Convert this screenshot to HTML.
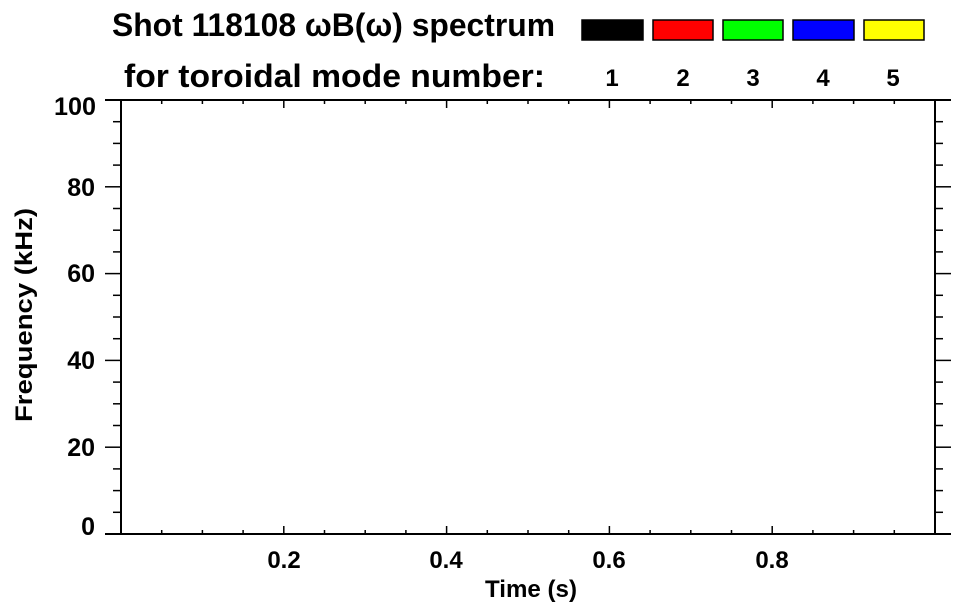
<!DOCTYPE html><html><head><style>body{margin:0;background:#fff}svg{display:block}text{font-family:"Liberation Sans",Arial,sans-serif;font-weight:bold;fill:#000}</style></head><body>
<svg width="963" height="615" viewBox="0 0 963 615">
<text x="112" y="36" font-size="32" textLength="443" lengthAdjust="spacingAndGlyphs">Shot 118108 ωB(ω) spectrum</text>
<text x="124" y="87" font-size="32" textLength="421" lengthAdjust="spacingAndGlyphs">for toroidal mode number:</text>
<g stroke="#000" stroke-width="1.5">
<rect x="582" y="20" width="61" height="20" fill="#000"/>
<rect x="653" y="20" width="60" height="20" fill="#f00"/>
<rect x="723" y="20" width="60" height="20" fill="#0f0"/>
<rect x="793" y="20" width="61" height="20" fill="#00f"/>
<rect x="864" y="20" width="60" height="20" fill="#ff0"/>
</g>
<g font-size="24" text-anchor="middle"><text x="612" y="86">1</text><text x="683" y="86">2</text><text x="753" y="86">3</text><text x="823" y="86">4</text><text x="893" y="86">5</text></g>
<g stroke="#000" stroke-width="2" fill="none">
<line x1="105" y1="100" x2="951" y2="100"/>
<line x1="105" y1="534" x2="951" y2="534"/>
<line x1="121" y1="100" x2="121" y2="534"/>
<line x1="935" y1="100" x2="935" y2="534"/>
</g>
<g stroke="#000" stroke-width="1.5" id="t"></g>
<g font-size="25" text-anchor="end"><text x="95" y="535">0</text><text x="95" y="456">20</text><text x="95" y="369">40</text><text x="95" y="282">60</text><text x="95" y="196">80</text><text x="96" y="115" textLength="42" lengthAdjust="spacingAndGlyphs">100</text></g>
<g font-size="24" text-anchor="middle"><text x="284" y="568">0.2</text><text x="446" y="568">0.4</text><text x="609" y="568">0.6</text><text x="772" y="568">0.8</text></g>
<text x="485" y="597" font-size="24" textLength="92" lengthAdjust="spacingAndGlyphs">Time (s)</text>
<text transform="translate(32,422) rotate(-90)" font-size="24" textLength="214" lengthAdjust="spacingAndGlyphs">Frequency (kHz)</text>
</svg>
<script>
var g=document.getElementById('t'),s='';
for(var i=1;i<20;i++){if(i%4==0)continue;var y=534-i*4.34*5;s+='<line x1="113" y1="'+y+'" x2="121" y2="'+y+'"/><line x1="935" y1="'+y+'" x2="943" y2="'+y+'"/>';}
for(var i=1;i<20;i++){var x=121+i*40.7,l=(i%4==0)?8:4;s+='<line x1="'+x+'" y1="534" x2="'+x+'" y2="'+(534-l)+'"/><line x1="'+x+'" y1="100" x2="'+x+'" y2="'+(100+l)+'"/>';}
for(var i=1;i<5;i++){var y=534-i*86.8;s+='<line x1="105" y1="'+y+'" x2="121" y2="'+y+'"/><line x1="935" y1="'+y+'" x2="951" y2="'+y+'"/>';}
g.innerHTML=s;
</script>
</body></html>
